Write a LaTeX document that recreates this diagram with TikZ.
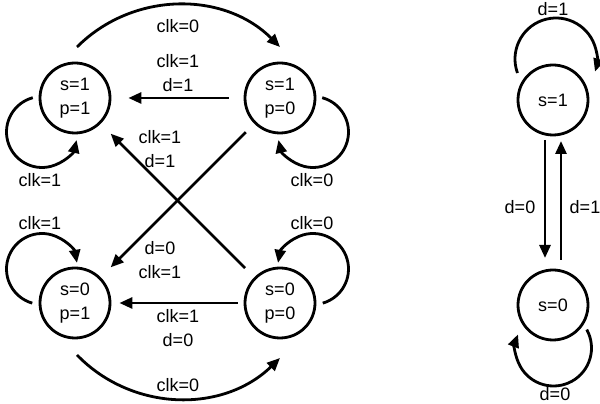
\documentclass[tikz,border=0pt]{standalone}
\usepackage{fontspec}
\setmainfont{Liberation Sans}
\usetikzlibrary{arrows.meta,calc}
\begin{document}
\begin{tikzpicture}[x=1pt,y=1pt,
  st/.style={circle,draw,line width=2.8pt,minimum size=70pt,inner sep=0pt,align=center,font=\fontsize{18}{24}\selectfont},
  tr/.style={line width=2.8pt,-{Triangle[length=13pt,width=11pt]}},
  lb/.style={align=center,font=\fontsize{18}{24}\selectfont,inner sep=0pt}]
\useasboundingbox (0,0) rectangle (600,404);
% states
\node[st] (A) at (75,306) {s=1\\p=1};
\node[st] (B) at (280,306) {s=1\\p=0};
\node[st] (C) at (75,101) {s=0\\p=1};
\node[st] (D) at (280,101) {s=0\\p=0};
\node[st] (E) at (553,304) {s=1};
\node[st] (F) at (553,99) {s=0};
% arcs between A-B and C-D
\coordinate (a1) at ($(A)+(2,51)$);
\coordinate (b1) at ($(B)+(0,51)$);
\draw[tr] (a1) to[bend left=45] (b1);
\node[lb] at (178,378) {clk=0};
\coordinate (c1) at ($(C)+(2,-52)$);
\coordinate (d1) at ($(D)+(0,-55)$);
\draw[tr] (c1) to[bend right=45] (d1);
\node[lb] at (178,19) {clk=0};
% straight arrows
\draw[tr,shorten <=15pt,shorten >=17pt] (B) -- (A);
\node[lb] at (178,331) {clk=1\\d=1};
\draw[tr,shorten <=6pt,shorten >=8pt] (D) -- (C);
\node[lb] at (178,76) {clk=1\\d=0};
\draw[tr,shorten <=12pt,shorten >=14pt] (B) -- (C);
\draw[tr,shorten <=13pt,shorten >=14pt] (D) -- (A);
\node[lb] at (160,255) {clk=1\\d=1};
\node[lb] at (160,144) {d=0\\clk=1};
% self loops left part
\draw[tr] ($(A)+(-33,-34)+(105:35.5)$) arc[start angle=105,end angle=347,radius=35.5];
\node[lb] at (40,224) {clk=1};
\draw[tr] ($(B)+(33,-34)+(75:35.5)$) arc[start angle=75,end angle=-167,radius=35.5];
\node[lb] at (312,224) {clk=0};
\draw[tr] ($(C)+(-33,34)+(254:35.5)$) arc[start angle=254,end angle=10,radius=35.5];
\node[lb] at (40,181) {clk=1};
\draw[tr] ($(D)+(33,34)+(-74:35.5)$) arc[start angle=-74,end angle=170,radius=35.5];
\node[lb] at (312,181) {clk=0};
% right part
\draw[tr] ($(E)+(3,41)+(200:41)$) arc[start angle=200,end angle=-18,radius=41];
\node[lb] at (553,395) {d=1};
\draw[tr] ($(F)+(0.5,-43)+(29:38)$) arc[start angle=29,end angle=-201,radius=38];
\node[lb] at (555,10) {d=0};
\draw[tr] ($(E)+(-8,-40)$) -- ($(F)+(-8,47)$);
\draw[tr] ($(F)+(8,45)$) -- ($(E)+(8,-41)$);
\node[lb] at (520,197) {d=0};
\node[lb] at (585,197) {d=1};
\end{tikzpicture}
\end{document}
